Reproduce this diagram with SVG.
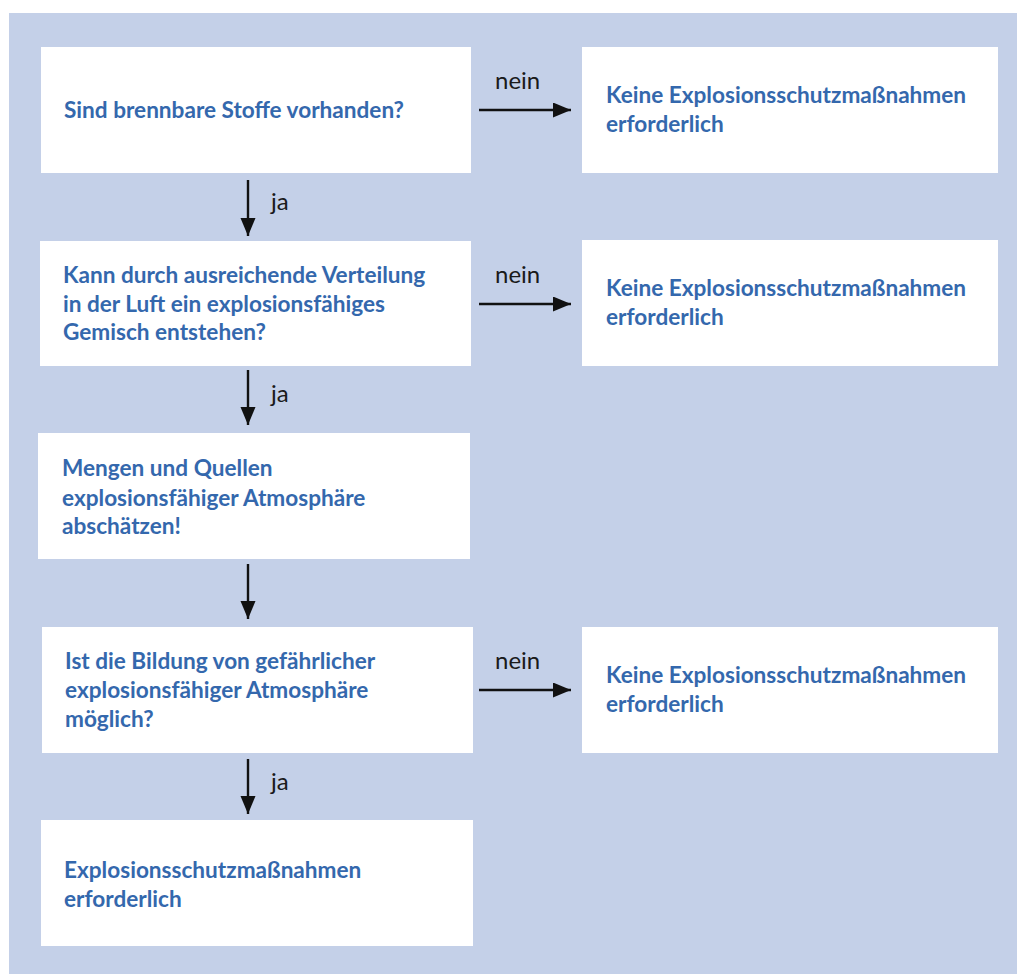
<svg xmlns="http://www.w3.org/2000/svg" width="1017" height="974" viewBox="0 0 1017 974">
<defs>
<marker id="ah" markerUnits="userSpaceOnUse" markerWidth="20" markerHeight="16" refX="18" refY="7.5" orient="auto">
<path d="M0,0 L18,7.5 L0,15 z" fill="#111"/>
</marker>
<style>
.bg{fill:#c4d0e8}
.box{fill:#ffffff}
.t{font-family:Lato,"Open Sans","Liberation Sans",sans-serif;font-weight:bold;font-size:22.6px;fill:#3468ad}
.lbl{font-family:Lato,"Open Sans","Liberation Sans",sans-serif;font-size:24px;fill:#1a1a1a}
.c{stroke:#111;stroke-width:2.4;fill:none;marker-end:url(#ah)}
</style>
</defs>
<rect x="0" y="0" width="1017" height="974" fill="#ffffff"/>
<rect class="bg" x="9" y="13" width="1008" height="961"/>
<g id="n1"><rect class="box" x="41" y="47" width="430" height="126"/><text class="t" x="64" y="118">Sind brennbare Stoffe vorhanden?</text></g>
<g id="n1r"><rect class="box" x="582" y="47" width="416" height="126"/><text class="t" x="606" y="103">Keine Explosionsschutzmaßnahmen</text><text class="t" x="606" y="132">erforderlich</text></g>
<g id="n2"><rect class="box" x="40" y="241" width="431" height="125"/><text class="t" x="63" y="283">Kann durch ausreichende Verteilung</text><text class="t" x="63" y="312">in der Luft ein explosionsfähiges</text><text class="t" x="63" y="340">Gemisch entstehen?</text></g>
<g id="n2r"><rect class="box" x="582" y="240" width="416" height="126"/><text class="t" x="606" y="296">Keine Explosionsschutzmaßnahmen</text><text class="t" x="606" y="325">erforderlich</text></g>
<g id="n3"><rect class="box" x="38" y="433" width="432" height="126"/><text class="t" x="62" y="476">Mengen und Quellen</text><text class="t" x="62" y="506">explosionsfähiger Atmosphäre</text><text class="t" x="62" y="534">abschätzen!</text></g>
<g id="n4"><rect class="box" x="42" y="627" width="431" height="126"/><text class="t" x="65" y="669">Ist die Bildung von gefährlicher</text><text class="t" x="65" y="698">explosionsfähiger Atmosphäre</text><text class="t" x="65" y="727">möglich?</text></g>
<g id="n4r"><rect class="box" x="582" y="627" width="416" height="126"/><text class="t" x="606" y="683">Keine Explosionsschutzmaßnahmen</text><text class="t" x="606" y="712">erforderlich</text></g>
<g id="n5"><rect class="box" x="41" y="820" width="432" height="126"/><text class="t" x="64" y="878">Explosionsschutzmaßnahmen</text><text class="t" x="64" y="907">erforderlich</text></g>
<g id="connectors">
<line class="c" x1="248" y1="180" x2="248" y2="236"/>
<line class="c" x1="248" y1="370" x2="248" y2="425"/>
<line class="c" x1="248" y1="564" x2="248" y2="619"/>
<line class="c" x1="248" y1="759" x2="248" y2="814"/>
<line class="c" x1="479" y1="110" x2="571" y2="110"/>
<line class="c" x1="479" y1="304" x2="571" y2="304"/>
<line class="c" x1="479" y1="690" x2="571" y2="690"/>
<text class="lbl" x="271" y="210">ja</text>
<text class="lbl" x="271" y="402">ja</text>
<text class="lbl" x="271" y="790">ja</text>
<text class="lbl" x="495" y="89">nein</text>
<text class="lbl" x="495" y="283">nein</text>
<text class="lbl" x="495" y="669">nein</text>
</g>
</svg>
